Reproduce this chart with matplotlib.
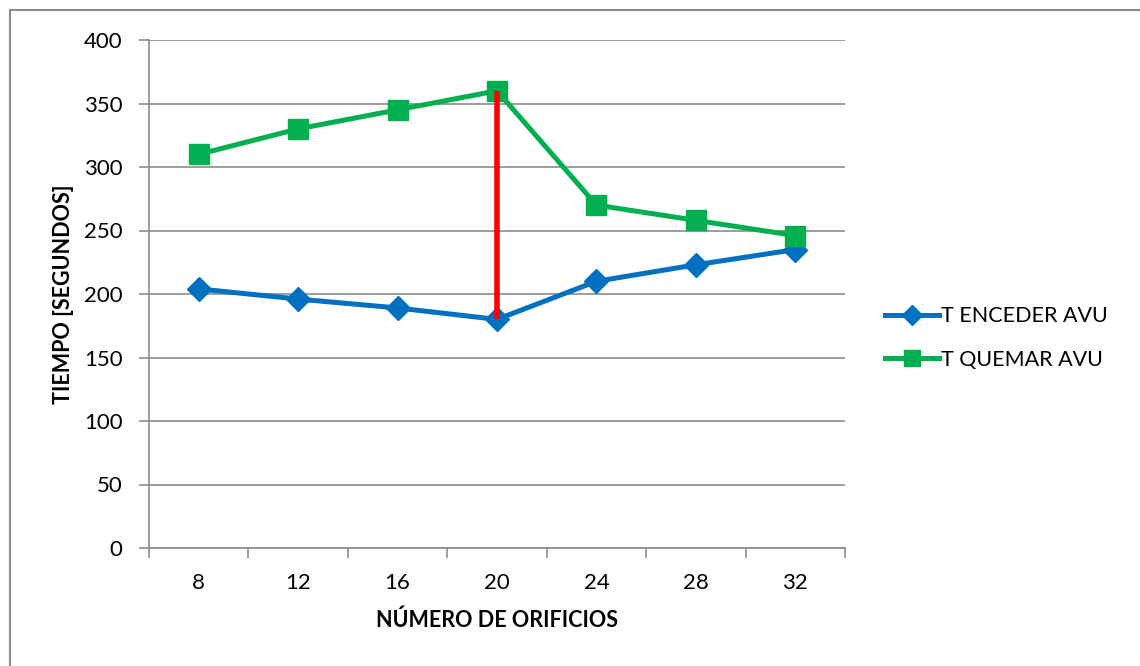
import matplotlib
matplotlib.use("Agg")
import matplotlib.pyplot as plt
from matplotlib.lines import Line2D

categories = ["8", "12", "16", "20", "24", "28", "32"]
t_encender = [204, 196, 189, 180, 210, 223, 235]
t_quemar = [310, 330, 345, 360, 270, 258, 246]
red_idx = 3
y_ticks = [0, 50, 100, 150, 200, 250, 300, 350, 400]

plt.rcParams['font.family'] = ['Lato', 'DejaVu Sans']

W, H = 1140, 666
fig = plt.figure(figsize=(W / 100, H / 100), dpi=100)
fig.patch.set_facecolor('white')

# outer frame (top and left visible)
fig.add_artist(Line2D([10 / W, 10 / W], [0, 1 - 10 / H], color='#8c8c8c', lw=1.5))
fig.add_artist(Line2D([10 / W, 1], [1 - 10 / H, 1 - 10 / H], color='#8c8c8c', lw=1.5))

ax = fig.add_axes([149 / W, 1 - 548 / H, (845 - 149) / W, (548 - 40) / H])
x = list(range(len(categories)))

ax.set_xlim(-0.5, len(categories) - 0.5)
ax.set_ylim(0, 400)
ax.set_yticks(y_ticks)
ax.set_xticks(x)
ax.set_xticklabels(categories)
ax.set_xticks([i - 0.5 for i in range(len(categories) + 1)], minor=True)

ax.grid(axis='y', color='#8c8c8c', lw=1.2)
ax.set_axisbelow(True)
for s in ['top', 'right']:
    ax.spines[s].set_visible(False)
for s in ['left', 'bottom']:
    ax.spines[s].set_color('#8c8c8c')
    ax.spines[s].set_linewidth(1.2)

ax.tick_params(axis='x', which='major', length=0, pad=18, labelsize=16)
ax.tick_params(axis='x', which='minor', length=7, color='#8c8c8c', width=1.2)
ax.tick_params(axis='y', length=7, color='#8c8c8c', width=1.2, labelsize=16, pad=12)

l1, = ax.plot(x, t_encender, color='#0070c0', lw=3.6, marker='D', ms=12.5,
              label='T ENCEDER AVU', zorder=3)
l2, = ax.plot(x, t_quemar, color='#00b050', lw=3.6, marker='s', ms=14.5,
              label='T QUEMAR AVU', zorder=3)
ax.vlines(x[red_idx], t_encender[red_idx], t_quemar[red_idx], color='#ff0000',
          lw=4, zorder=4)

ax.set_xlabel('NÚMERO DE ORIFICIOS', fontsize=15.5, fontweight='bold', labelpad=12)
ax.set_ylabel('TIEMPO [SEGUNDOS]', fontsize=15.5, fontweight='bold', labelpad=7)

leg = fig.legend(handles=[l1, l2], loc='center left',
                 bbox_to_anchor=(866 / W, 1 - 338 / H), frameon=False,
                 fontsize=15.5, handlelength=2.5, handletextpad=0.1,
                 labelspacing=1.1, markerscale=0.8)

fig.savefig('out.png', dpi=100)
